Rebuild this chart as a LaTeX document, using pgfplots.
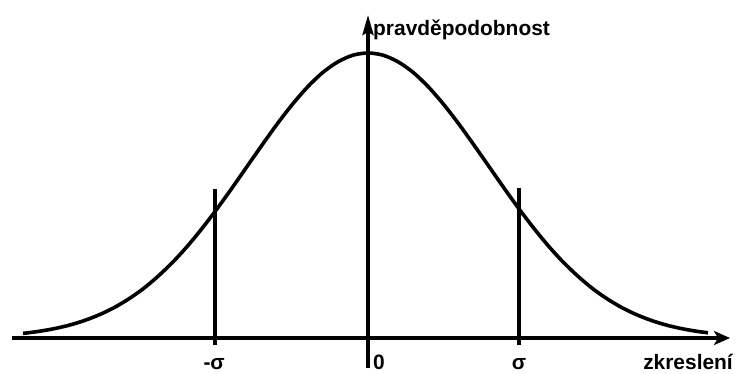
\documentclass[border=0pt]{standalone}
\usepackage{fontspec}
\setmainfont{Liberation Sans}
\usepackage{pgfplots}
\pgfplotsset{compat=1.18}
\usetikzlibrary{arrows.meta}

% bell curve: offset from the centre vs. height above the baseline
\pgfplotstableread{
x     y
-345  4.6
-330  6.5
-315  9.1
-300  12.5
-285  17.0
-270  22.7
-255  29.8
-240  38.6
-225  49.1
-210  61.7
-195  76.1
-180  92.5
-165  110.8
-150  130.5
-135  151.4
-120  172.9
-105  194.3
-90   215.1
-75   234.4
-60   251.5
-45   265.7
-30   276.2
-15   282.8
0     285.0
15    282.8
30    276.2
45    265.7
60    251.5
75    234.4
90    215.1
105   194.3
120   172.9
135   151.4
150   130.5
165   110.8
180   92.5
195   76.1
210   61.7
225   49.1
240   38.6
255   29.8
270   22.7
285   17.0
300   12.5
315   9.1
330   6.5
340   5.2
}\curve

\begin{document}
\begin{tikzpicture}
\begin{axis}[
  scale only axis,
  width=718bp, height=353bp,
  xmin=-356, xmax=362, ymin=-30, ymax=323,
  axis lines=none,
  clip=false,
  font=\bfseries\fontsize{21}{24}\selectfont,
]
  \path (axis cs:-368,-36) rectangle (axis cs:368,338);

  % axes with arrow heads
  \addplot[black, line width=3.2bp, -{Stealth[length=16bp,width=14bp,inset=4bp]}]
    coordinates {(-356,0) (362,0)};
  \addplot[black, line width=3.4bp, -{Stealth[length=20bp,width=11bp,inset=3bp]}]
    coordinates {(0,-30) (0,323)};

  \addplot[black, line width=3.6bp, smooth] table[x=x, y=y] {\curve};

  % sigma markers
  \addplot[black, line width=3.2bp] coordinates {(-153,-7) (-153,149)};
  \addplot[black, line width=3.2bp] coordinates {(151,-7) (151,150)};

  \node[anchor=base west, inner sep=0pt] at (axis cs:5,302) {pravděpodobnost};
  \node[anchor=base east, inner sep=0pt] at (axis cs:365,-31) {zkreslení};
  \node[anchor=base west, inner sep=0pt] at (axis cs:5,-31) {0};
  \node[anchor=base, inner sep=0pt] at (axis cs:151,-31) {σ};
  \node[anchor=base east, inner sep=0pt] at (axis cs:-143,-31) {-σ};
\end{axis}
\end{tikzpicture}
\end{document}
